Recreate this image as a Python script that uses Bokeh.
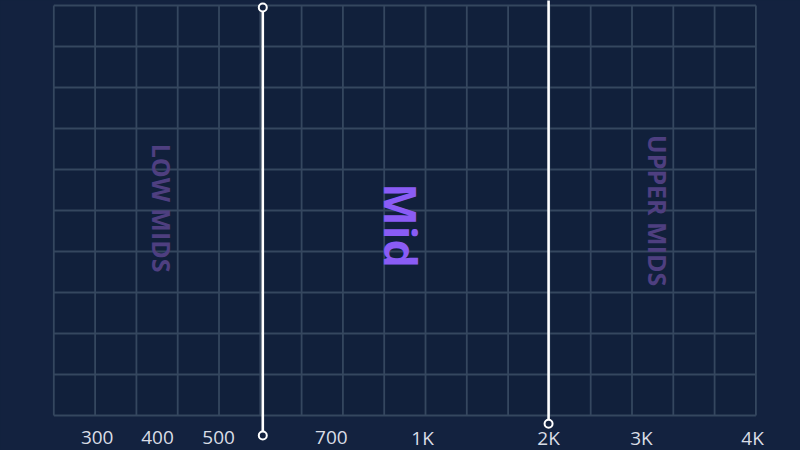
import numpy as np
from bokeh.plotting import figure
from bokeh.models import ColumnDataSource
from bokeh.core.properties import value
from bokeh.embed import file_html
from bokeh.resources import INLINE

# frequency tick labels and where they sit on the grid (in grid-column units)
freq_labels = ["300", "400", "500", "700", "1K", "2K", "3K", "4K"]
freq_pos = [1.05, 2.51, 3.99, 6.72, 8.93, 11.98, 14.23, 16.92]

# the two crossover markers
marker_x = [5.06, 11.98]
marker_top = [9.95, 10.6]
marker_bottom = [-0.49, -0.2]

# band names
band_names = ["LOW MIDS", "Mid", "UPPER MIDS"]
band_x = [2.61, 8.42, 14.62]
band_y = [5.06, 4.63, 5.0]

n_cols = 17
n_rows = 10

BG = "#13223f"
CELL = "#11203b"
GRID = "#35475f"

p = figure(width=800, height=450, x_range=(-1.291, 18.08), y_range=(-0.854, 10.122),
           x_axis_type=None, y_axis_type=None, output_backend="svg",
           toolbar_location=None, min_border=0)
p.background_fill_color = BG
p.border_fill_color = BG
p.outline_line_color = None

# grid area
p.quad(left=[0], right=[n_cols], bottom=[0], top=[n_rows], fill_color=CELL, line_color=None)
cols = np.arange(n_cols + 1)
rows = np.arange(n_rows + 1)
p.segment(x0=cols, y0=0, x1=cols, y1=n_rows, line_color=GRID, line_width=1.8)
p.segment(x0=0, y0=rows, x1=n_cols, y1=rows, line_color=GRID, line_width=1.8)

# band labels
band_colors = ["#4e3f80", "#8a5cf5", "#4e3f80"]
band_sizes = ["25px", "45px", "25px"]
for i in range(len(band_names)):
    p.text(x=[band_x[i]], y=[band_y[i]], text=[band_names[i]], angle=-np.pi / 2,
           text_color=band_colors[i], text_font=value("Open Sans"), text_font_style="bold",
           text_font_size=band_sizes[i], text_align="center", text_baseline="middle")

# frequency labels
p.text(x=freq_pos, y=[-0.54] * len(freq_pos), text=freq_labels,
       text_color="#d9dde6", text_font=value("Open Sans"), text_font_size="19px",
       text_align="center", text_baseline="middle")

# marker lines with handles
src = ColumnDataSource(dict(x=marker_x, top=marker_top, bottom=marker_bottom))
p.segment(x0="x", y0="bottom", x1="x", y1="top", source=src, line_color="white", line_width=2.6)
p.scatter(x="x", y="top", source=src, size=8, fill_color=BG, line_color="white", line_width=2)
p.scatter(x="x", y="bottom", source=src, size=8, fill_color=BG, line_color="white", line_width=2)

html = file_html(p, INLINE).replace("<body>", '<body style="background:%s">' % BG)
open("out.html", "w").write(html)
